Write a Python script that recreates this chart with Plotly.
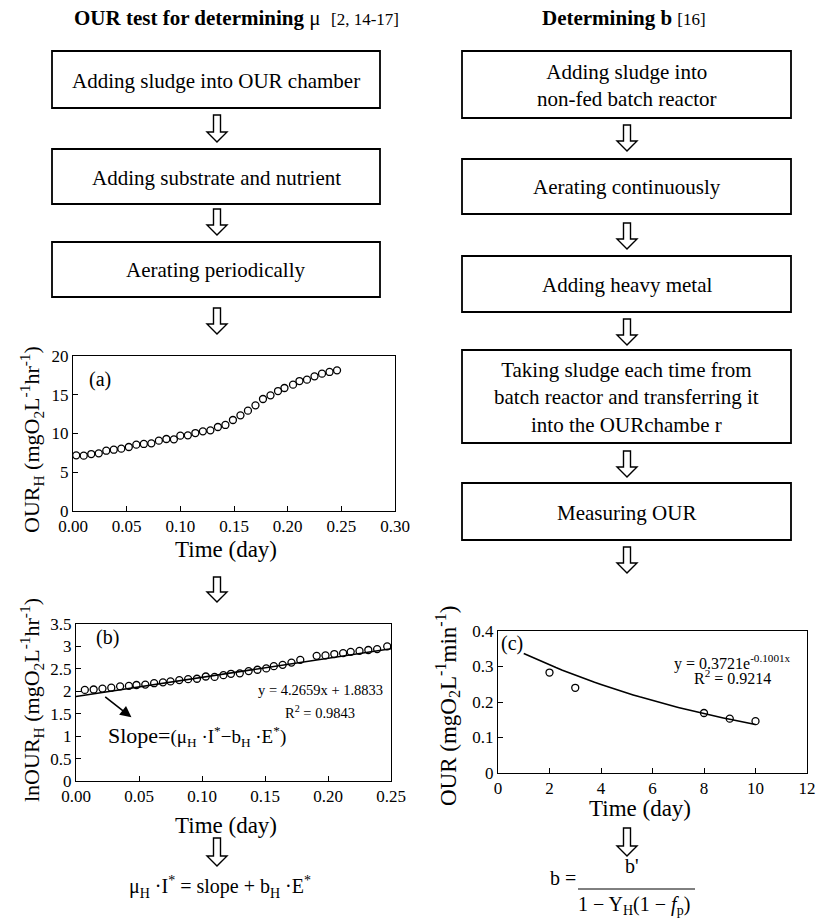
import math
import plotly.graph_objects as go

# figure fills the whole 818x920 window (body margin removed by a post script)
OFF = 0
FW, FH = 818, 920
FONT = "Liberation Serif"

# ---------------- data ----------------
# (a) OUR_H vs time
time_a = [0.003, 0.010, 0.017, 0.024, 0.031, 0.038, 0.045, 0.052, 0.059, 0.066,
          0.073, 0.080, 0.087, 0.094, 0.100, 0.107, 0.114, 0.121, 0.128, 0.135,
          0.142, 0.149, 0.156, 0.163, 0.170, 0.177, 0.184, 0.191, 0.197, 0.205,
          0.211, 0.218, 0.225, 0.232, 0.239, 0.246]
our_a = [7.18, 7.14, 7.35, 7.44, 7.78, 7.91, 8.04, 8.26, 8.56, 8.65,
         8.73, 9.08, 9.29, 9.25, 9.72, 9.76, 10.06, 10.28, 10.41, 10.84,
         11.10, 11.74, 12.34, 12.95, 13.63, 14.45, 14.92, 15.48, 15.87, 16.30,
         16.77, 16.95, 17.38, 17.72, 17.94, 18.15]

# (b) ln OUR_H vs time
time_b = [0.007, 0.014, 0.021, 0.028, 0.035, 0.042, 0.048, 0.055, 0.062, 0.069,
          0.075, 0.082, 0.089, 0.096, 0.103, 0.110, 0.117, 0.123, 0.130, 0.137,
          0.144, 0.151, 0.157, 0.164, 0.171, 0.178, 0.191, 0.198, 0.205, 0.212,
          0.218, 0.225, 0.232, 0.239, 0.247]
ln_our_b = [2.03, 2.04, 2.06, 2.08, 2.11, 2.12, 2.14, 2.15, 2.18, 2.20,
            2.22, 2.25, 2.27, 2.28, 2.33, 2.32, 2.36, 2.39, 2.40, 2.45,
            2.48, 2.51, 2.56, 2.59, 2.64, 2.70, 2.79, 2.80, 2.83, 2.85,
            2.88, 2.90, 2.92, 2.94, 3.00]
fit_b_slope, fit_b_intercept = 4.2659, 1.8833
fit_b_x = [0.0, 0.25]

# (c) OUR vs time (days)
time_c = [2, 3, 8, 9, 10]
our_c = [0.283, 0.240, 0.169, 0.153, 0.146]
fit_c_a, fit_c_k = 0.3721, -0.1001
fit_c_x = [1 + 0.25 * i for i in range(37)]

ticks_a_x = [0.00, 0.05, 0.10, 0.15, 0.20, 0.25, 0.30]
ticks_a_y = [0, 5, 10, 15, 20]
ticks_b_x = [0.00, 0.05, 0.10, 0.15, 0.20, 0.25]
ticks_b_y = [0, 0.5, 1, 1.5, 2, 2.5, 3, 3.5]
ticks_c_x = [0, 2, 4, 6, 8, 10, 12]
ticks_c_y = [0, 0.1, 0.2, 0.3, 0.4]

left_steps = ["Adding sludge into OUR chamber",
              "Adding substrate and nutrient",
              "Aerating periodically"]
right_steps = ["Adding sludge into<br>non-fed batch reactor",
               "Aerating continuously",
               "Adding heavy metal",
               "Taking sludge each time from<br>batch reactor and transferring it<br>into the OURchambe r",
               "Measuring OUR"]

# ---------------- helpers (window pixels -> paper) ----------------
def px(x):
    return (x - OFF) / FW

def py(y):
    return 1 - (y - OFF) / FH

fig = go.Figure()

marker = dict(symbol="circle-open", size=7, color="black", line=dict(width=1.3, color="black"))

fig.add_trace(go.Scatter(x=time_a, y=our_a, mode="markers", xaxis="x", yaxis="y",
                         marker=marker, showlegend=False))
fig.add_trace(go.Scatter(x=fit_b_x, y=[fit_b_slope * v + fit_b_intercept for v in fit_b_x],
                         mode="lines", xaxis="x2", yaxis="y2",
                         line=dict(color="black", width=1.6), showlegend=False))
fig.add_trace(go.Scatter(x=time_b, y=ln_our_b, mode="markers", xaxis="x2", yaxis="y2",
                         marker=marker, showlegend=False))
fig.add_trace(go.Scatter(x=fit_c_x, y=[fit_c_a * math.exp(fit_c_k * v) for v in fit_c_x],
                         mode="lines", xaxis="x3", yaxis="y3",
                         line=dict(color="black", width=1.6), showlegend=False))
fig.add_trace(go.Scatter(x=time_c, y=our_c, mode="markers", xaxis="x3", yaxis="y3",
                         marker=marker, showlegend=False))

tickfont = dict(family=FONT, size=17, color="black")

def axis(domain, rng, tv, tt, anchor):
    return dict(domain=domain, range=rng, tickmode="array", tickvals=tv, ticktext=tt,
                ticks="inside", ticklen=5, tickwidth=1, tickcolor="black",
                showline=True, linecolor="black", linewidth=1, mirror=True,
                showgrid=False, zeroline=False, tickfont=tickfont, anchor=anchor,
                automargin=False, fixedrange=True)

# plot-area pixel boxes (window pixels)
A = dict(l=73, r=395, t=356, b=511)
B = dict(l=76, r=391, t=624, b=781)
C = dict(l=498, r=807, t=631, b=773)

def g(v):
    return f"{v:g}"

fig.update_layout(
    template="none",
    xaxis=axis([px(A["l"]), px(A["r"])], [0, 0.30], ticks_a_x,
               [f"{v:.2f}" for v in ticks_a_x], "y"),
    yaxis=axis([py(A["b"]), py(A["t"])], [0, 20], ticks_a_y,
               [g(v) for v in ticks_a_y], "x"),
    xaxis2=axis([px(B["l"]), px(B["r"])], [0, 0.25], ticks_b_x,
                [f"{v:.2f}" for v in ticks_b_x], "y2"),
    yaxis2=axis([py(B["b"]), py(B["t"])], [0, 3.5], ticks_b_y,
                [g(v) for v in ticks_b_y], "x2"),
    xaxis3=axis([px(C["l"]), px(C["r"])], [0, 12], ticks_c_x,
                [g(v) for v in ticks_c_x], "y3"),
    yaxis3=axis([py(C["b"]), py(C["t"])], [0, 0.4], ticks_c_y,
                [g(v) for v in ticks_c_y], "x3"),
)

shapes = []
ann = []

def text(x, y, s, size=20, angle=0, xanchor="center", yanchor="middle"):
    ann.append(dict(x=px(x), y=py(y), xref="paper", yref="paper", text=s,
                    showarrow=False, textangle=angle, xanchor=xanchor, yanchor=yanchor,
                    font=dict(family=FONT, size=size, color="black")))

def box(x0, x1, y0, y1, s, size=21):
    shapes.append(dict(type="rect", xref="paper", yref="paper",
                       x0=px(x0), x1=px(x1), y0=py(y1), y1=py(y0),
                       line=dict(color="black", width=1.8), fillcolor="white", layer="below"))
    text((x0 + x1) / 2, (y0 + y1) / 2 + 1, s, size=size)

def down_arrow(cx, y0, y1):
    sw, hw, hh = 3.5, 10, 10
    pts = [(cx - sw, y0), (cx + sw, y0), (cx + sw, y1 - hh), (cx + hw, y1 - hh),
           (cx, y1), (cx - hw, y1 - hh), (cx - sw, y1 - hh)]
    path = "M " + " L ".join(f"{px(a):.5f},{py(b):.5f}" for a, b in pts) + " Z"
    shapes.append(dict(type="path", xref="paper", yref="paper", path=path,
                       line=dict(color="black", width=1.4), fillcolor="white"))

# titles
text(236, 18, "<b>OUR test for determining</b> μ  <span style='font-size:17px'>[2, 14-17]</span>", size=21)
text(624, 18, "<b>Determining b</b> <span style='font-size:17px'>[16]</span>", size=21)

# left flow
LX0, LX1, LCX = 52, 380, 217
left_y = [(51, 108), (149, 204), (242, 297)]
for (y0, y1), s in zip(left_y, left_steps):
    box(LX0, LX1, y0, y1, s)
for y0, y1 in [(115, 142), (209, 235), (308, 334), (577, 602), (838, 866)]:
    down_arrow(LCX, y0, y1)

# right flow
RX0, RX1, RCX = 462, 791, 627
right_y = [(51, 118), (159, 214), (256, 312), (350, 443), (483, 540)]
for (y0, y1), s in zip(right_y, right_steps):
    box(RX0, RX1, y0, y1, s)
for y0, y1 in [(125, 151), (223, 249), (319, 345), (451, 477), (547, 573), (828, 856)]:
    down_arrow(RCX, y0, y1)

# axis titles
text(31, 440, "OUR<sub>H</sub> (mgO<sub>2</sub>L<sup>-1</sup>hr<sup>-1</sup>)", size=22, angle=-90)
text(226, 549, "Time (day)", size=23)
text(31, 700, "lnOUR<sub>H</sub> (mgO<sub>2</sub>L<sup>-1</sup>hr<sup>-1</sup>)", size=22, angle=-90)
text(226, 825, "Time (day)", size=23)
text(447, 706, "OUR (mgO<sub>2</sub>L<sup>-1</sup>min<sup>-1</sup>)", size=23, angle=-90)
text(640, 808, "Time (day)", size=23)

# panel annotations in data coordinates
def dtext(xr, yr, x, y, s, size, xanchor="center"):
    ann.append(dict(x=x, y=y, xref=xr, yref=yr, text=s, showarrow=False,
                    xanchor=xanchor, yanchor="middle",
                    font=dict(family=FONT, size=size, color="black")))

dtext("x", "y", 0.025, 17.0, "(a)", 20)
dtext("x2", "y2", 0.025, 3.2, "(b)", 20)
dtext("x3", "y3", 0.55, 0.365, "(c)", 20)
dtext("x2", "y2", 0.194, 2.03, f"y = {fit_b_slope}x + {fit_b_intercept}", 14.5)
dtext("x2", "y2", 0.194, 1.53, "R<sup>2</sup> = 0.9843", 14.5)
dtext("x3", "y3", 9.1, 0.312, f"y = {fit_c_a}e<sup>{fit_c_k}x</sup>", 16)
dtext("x3", "y3", 9.1, 0.270, "R<sup>2</sup> = 0.9214", 16)
dtext("x2", "y2", 0.024, 1.0,
      "Slope=<span style='font-size:19px'>(μ<sub>H</sub> ·I<sup>*</sup>−b<sub>H</sub> ·E<sup>*</sup>)</span>",
      22, xanchor="left")
ann.append(dict(x=0.044, y=1.42, ax=0.022, ay=1.90, xref="x2", yref="y2",
                axref="x2", ayref="y2", showarrow=True, arrowhead=2, arrowsize=1.4,
                arrowwidth=1.6, arrowcolor="black", text=""))

# bottom formulas
text(220, 887, "μ<sub>H</sub> ·I<sup>*</sup> = slope + b<sub>H</sub> ·E<sup>*</sup>", size=20)
text(563, 878, "b =", size=20)
text(632, 866, "b'", size=20)
shapes.append(dict(type="line", xref="paper", yref="paper", x0=px(578), x1=px(695),
                   y0=py(889), y1=py(889), line=dict(color="black", width=1)))
text(634, 905, "1 − Y<sub>H</sub>(1 − <i>f</i><sub>p</sub>)", size=20)

fig.update_layout(width=FW, height=FH, autosize=False, margin=dict(l=0, r=0, t=0, b=0, pad=0),
                  paper_bgcolor="white", plot_bgcolor="white",
                  shapes=shapes, annotations=ann, showlegend=False,
                  font=dict(family=FONT, color="black"))

fig.write_html("out.html", config={"displayModeBar": False},
               post_script="document.body.style.margin='0px';"
                           "document.body.style.overflow='hidden';")
